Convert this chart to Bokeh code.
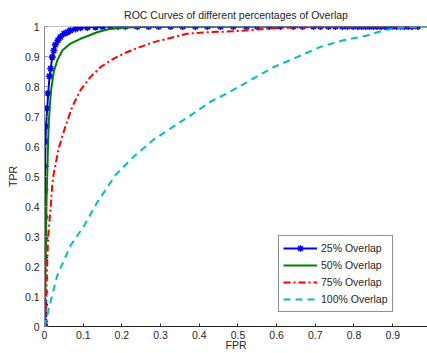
from bokeh.plotting import figure
from bokeh.models import (Range1d, FixedTicker, PrintfTickFormatter, Span,
                          Legend, LegendItem)
from bokeh.embed import file_html
from bokeh.resources import INLINE

title_text = "ROC Curves of different percentages of Overlap"
x_label = "FPR"
y_label = "TPR"
x_ticks = [0, 0.1, 0.2, 0.3, 0.4, 0.5, 0.6, 0.7, 0.8, 0.9]
y_ticks = [0, 0.1, 0.2, 0.3, 0.4, 0.5, 0.6, 0.7, 0.8, 0.9, 1.0]

series_names = ["25% Overlap", "50% Overlap", "75% Overlap", "100% Overlap"]

fpr_25 = [0, 0, 0, 0, 0, 0.0005, 0.0005, 0.0005, 0.001, 0.001, 0.001, 0.0015, 0.0026,
          0.004, 0.007, 0.0095, 0.013, 0.016, 0.02, 0.024, 0.028, 0.035, 0.041, 0.05,
          0.059, 0.067, 0.08,
          0.093, 0.111, 0.132, 0.15, 0.171, 0.191, 0.209, 0.24, 0.269, 0.295, 0.326,
          0.357, 0.39, 0.421, 0.455, 0.488, 0.522, 0.55, 0.581, 0.61, 0.643, 0.667,
          0.695, 0.713, 0.734, 0.752, 0.77, 0.783, 0.798, 0.81, 0.82, 0.83, 0.84, 0.85,
          0.86, 0.87, 0.88, 0.89, 0.9, 0.91, 0.92, 0.93, 0.94, 0.95, 0.965]
tpr_25 = [0, 0.005, 0.017, 0.04, 0.073, 0.115, 0.161, 0.23, 0.294, 0.365, 0.455, 0.534,
          0.617, 0.667, 0.727, 0.777, 0.834, 0.86, 0.898, 0.92, 0.939, 0.954, 0.965,
          0.976, 0.981, 0.987, 0.992,
          0.996, 0.997, 0.998, 0.999, 1.0, 1.0, 1.0, 1.0, 1.0, 1.0, 1.0,
          1.0, 1.0, 1.0, 1.0, 1.0, 1.0, 1.0, 1.0, 1.0, 1.0, 1.0,
          1.0, 1.0, 1.0, 1.0, 1.0, 1.0, 1.0, 1.0, 1.0, 1.0, 1.0, 1.0,
          1.0, 1.0, 1.0, 1.0, 1.0, 1.0, 1.0, 1.0, 1.0, 1.0, 1.0]

fpr_50 = [0, 0.002, 0.003, 0.004, 0.005, 0.006, 0.007, 0.009, 0.011, 0.014, 0.017, 0.024,
          0.033, 0.046, 0.067, 0.093, 0.115, 0.136, 0.162, 0.196, 0.25, 0.35, 0.5, 0.7, 0.99]
tpr_50 = [0, 0.1, 0.2, 0.3, 0.4, 0.46, 0.5, 0.6, 0.678, 0.74, 0.788, 0.849,
          0.887, 0.92, 0.943, 0.959, 0.97, 0.981, 0.99, 0.996, 0.998, 0.999, 1.0, 1.0, 1.0]

fpr_75 = [0, 0.003, 0.005, 0.007, 0.0095, 0.0155, 0.02, 0.024, 0.037, 0.054, 0.072, 0.093,
          0.119, 0.145, 0.179, 0.214, 0.248, 0.282, 0.317, 0.369, 0.42, 0.49, 0.55, 0.6,
          0.7, 0.8, 0.965]
tpr_75 = [0, 0.037, 0.126, 0.214, 0.302, 0.39, 0.47, 0.512, 0.595, 0.667, 0.733, 0.788,
          0.832, 0.865, 0.893, 0.915, 0.932, 0.948, 0.959, 0.976, 0.981, 0.984, 0.99, 0.995,
          0.998, 1.0, 1.0]

fpr_100 = [0, 0.004, 0.007, 0.0155, 0.033, 0.067, 0.102, 0.136, 0.183, 0.231, 0.282, 0.334,
           0.386, 0.43, 0.472, 0.532, 0.593, 0.653, 0.713, 0.773, 0.834, 0.877, 0.911,
           0.954, 0.99]
tpr_100 = [0, 0.02, 0.037, 0.082, 0.17, 0.269, 0.335, 0.413, 0.504, 0.567, 0.623, 0.667,
           0.711, 0.75, 0.777, 0.821, 0.865, 0.898, 0.932, 0.954, 0.97, 0.987, 0.995,
           0.998, 1.0]

FONT = "Liberation Sans"
TXT = "#262626"
FS = "10.5px"

W, H = 427, 353
BL, BR, BT, BB = 44, 0, 26, 25

p = figure(width=W, height=H, output_backend="svg", toolbar_location=None,
           x_range=Range1d(0, 0.99), y_range=Range1d(0, 1.0),
           min_border_left=BL, min_border_right=BR, min_border_top=BT,
           min_border_bottom=BB, background_fill_color="white",
           border_fill_color="white", outline_line_color=None,
           title=title_text)
p.grid.visible = False

p.title.align = "center"
p.title.text_font = FONT
p.title.text_font_size = FS
p.title.text_font_style = "normal"
p.title.text_color = TXT
p.title.standoff = 11

for ax, ticks in ((p.xaxis[0], x_ticks), (p.yaxis[0], y_ticks)):
    ax.ticker = FixedTicker(ticks=ticks, minor_ticks=[])
    ax.formatter = PrintfTickFormatter(format="%g")
    ax.major_tick_in = 3
    ax.major_tick_out = 0
    ax.minor_tick_line_color = None
    ax.major_label_text_font = FONT
    ax.major_label_text_font_size = FS
    ax.major_label_text_color = TXT
    ax.axis_label_text_font = FONT
    ax.axis_label_text_font_size = FS
    ax.axis_label_text_font_style = "normal"
    ax.axis_label_text_color = TXT

p.xaxis[0].axis_label = x_label
p.xaxis[0].major_label_standoff = 4
p.xaxis[0].axis_label_standoff = -3
p.yaxis[0].axis_label = y_label
p.yaxis[0].major_label_standoff = 5
p.yaxis[0].axis_label_standoff = 3

p.xaxis[0].axis_line_color = "#222222"
p.xaxis[0].major_tick_line_color = "#222222"
p.yaxis[0].axis_line_color = "#8a8a8a"
p.yaxis[0].major_tick_line_color = "#8a8a8a"

p.add_layout(Span(location=1.0, dimension="width", line_color="#8a8a8a", line_width=1))

r25l = p.line(fpr_25, tpr_25, line_color="#0000ff", line_width=2)
r25m = p.scatter(fpr_25, tpr_25, marker="asterisk", size=7, line_color="#0000ff",
                 line_width=1.6)
r50 = p.line(fpr_50, tpr_50, line_color="#008000", line_width=2)
r75 = p.line(fpr_75, tpr_75, line_color="#ff0000", line_width=2, line_dash="7 3 2 3")
r100 = p.line(fpr_100, tpr_100, line_color="#00bfbf", line_width=2, line_dash="7 5")

legend = Legend(items=[
    LegendItem(label=series_names[0], renderers=[r25l, r25m]),
    LegendItem(label=series_names[1], renderers=[r50]),
    LegendItem(label=series_names[2], renderers=[r75]),
    LegendItem(label=series_names[3], renderers=[r100]),
], location=(234, 14), orientation="vertical", margin=0, padding=4, spacing=1,
    glyph_width=34, glyph_height=16, label_height=16, label_standoff=4,
    label_text_font=FONT, label_text_font_size=FS, label_text_color=TXT,
    border_line_color="#222222", border_line_width=1, background_fill_alpha=1)
p.add_layout(legend, "center")

open("out.html", "w").write(file_html(p, INLINE))
